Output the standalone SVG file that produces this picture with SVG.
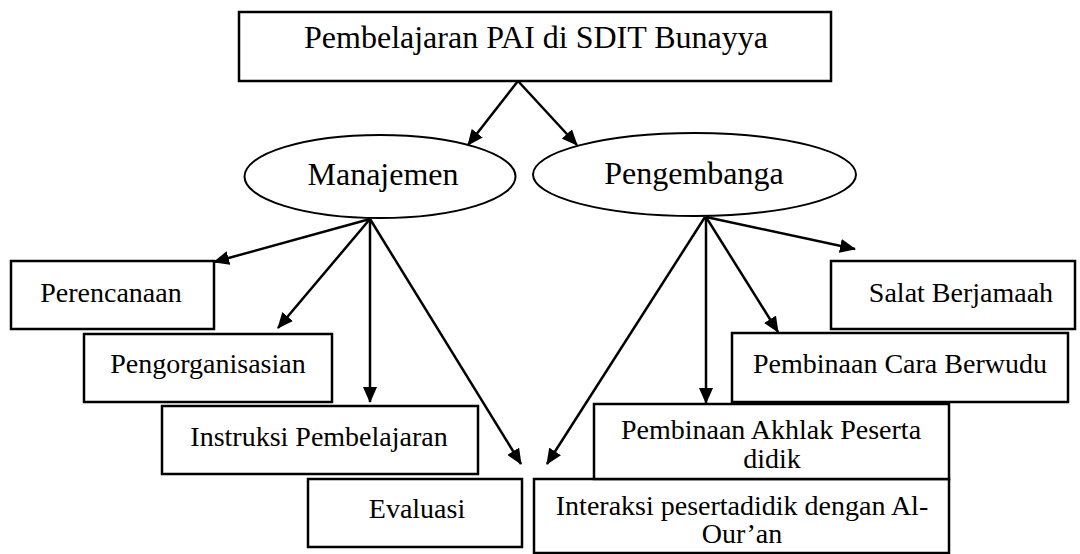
<svg xmlns="http://www.w3.org/2000/svg" width="1080" height="554" viewBox="0 0 1080 554">
<defs>
<style>
.box{fill:#fff;stroke:#000;stroke-width:2.5}
.ell{fill:#fff;stroke:#000;stroke-width:2}
.t{font-family:"Liberation Serif","Times New Roman",serif;fill:#000;text-anchor:middle}
.big{font-size:32px}
.sm{font-size:28px}
.c{stroke:#000;stroke-width:2.5;fill:none;marker-end:url(#ah)}
</style>
<marker id="ah" viewBox="0 0 16 14" markerWidth="16" markerHeight="14" refX="15" refY="7" orient="auto" markerUnits="userSpaceOnUse">
<path d="M0,0 L16,7 L0,14 z" fill="#000"/>
</marker>
</defs>
<rect width="1080" height="554" fill="#fff"/>

<g id="top">
<rect class="box" x="239" y="12" width="592" height="69"/>
<text class="t big" x="536" y="48">Pembelajaran PAI di SDIT Bunayya</text>
</g>

<g id="manajemen">
<ellipse class="ell" cx="380" cy="176.5" rx="135.5" ry="41.5"/>
<text class="t big" x="383" y="185">Manajemen</text>
</g>

<g id="pengembanga">
<ellipse class="ell" cx="694.5" cy="174.5" rx="161.5" ry="41.5"/>
<text class="t big" x="694" y="184">Pengembanga</text>
</g>

<g id="perencanaan">
<rect class="box" x="11" y="261" width="203" height="68"/>
<text class="t sm" x="111" y="302">Perencanaan</text>
</g>

<g id="pengorganisasian">
<rect class="box" x="84" y="334" width="248" height="68"/>
<text class="t sm" x="208" y="373">Pengorganisasian</text>
</g>

<g id="instruksi">
<rect class="box" x="162" y="406" width="316" height="68"/>
<text class="t sm" x="319" y="446">Instruksi Pembelajaran</text>
</g>

<g id="evaluasi">
<rect class="box" x="308" y="479" width="214" height="68"/>
<text class="t sm" x="417" y="518">Evaluasi</text>
</g>

<g id="salat">
<rect class="box" x="831" y="261" width="244" height="68"/>
<text class="t sm" x="961" y="302">Salat Berjamaah</text>
</g>

<g id="berwudu">
<rect class="box" x="732" y="333" width="336" height="69"/>
<text class="t sm" x="900" y="373">Pembinaan Cara Berwudu</text>
</g>

<g id="interaksi">
<rect class="box" x="534" y="479" width="415" height="74"/>
<text class="t sm" x="742" y="515">Interaksi pesertadidik dengan Al-</text>
<text class="t sm" x="742" y="543">Our’an</text>
</g>

<g id="akhlak">
<rect class="box" x="594" y="404" width="355" height="75"/>
<text class="t sm" x="771" y="439">Pembinaan Akhlak Peserta</text>
<text class="t sm" x="772" y="468">didik</text>
</g>

<g id="connectors">
<line class="c" x1="518" y1="81" x2="468" y2="145"/>
<line class="c" x1="518" y1="81" x2="577" y2="145"/>
<line class="c" x1="370" y1="219" x2="214" y2="262"/>
<line class="c" x1="370" y1="219" x2="278" y2="328"/>
<line class="c" x1="370" y1="219" x2="370" y2="402"/>
<line class="c" x1="370" y1="219" x2="521" y2="464"/>
<line class="c" x1="705" y1="217" x2="547" y2="464"/>
<line class="c" x1="706" y1="217" x2="706" y2="403"/>
<line class="c" x1="706" y1="217" x2="778" y2="332"/>
<line class="c" x1="706" y1="217" x2="855" y2="249"/>
</g>
</svg>
